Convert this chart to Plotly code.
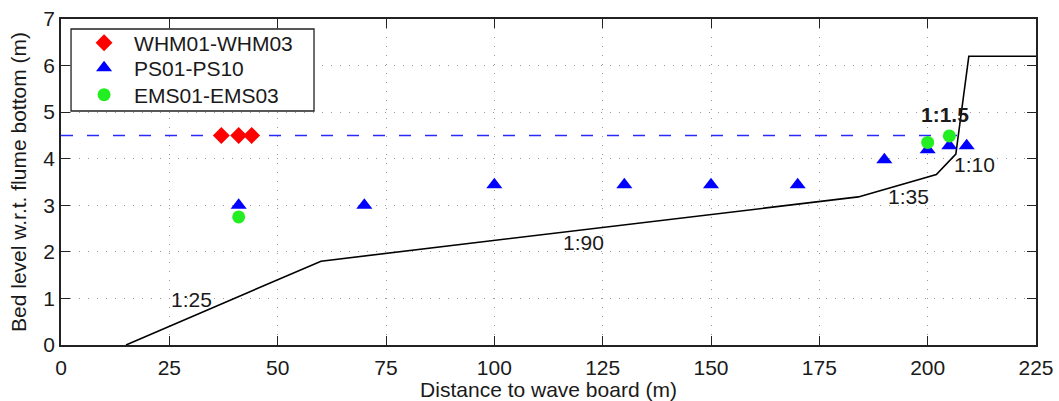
import plotly.graph_objects as go

# Flume bed profile (distance from wave board, bed level)
profile_x = [15, 60, 184, 202, 206.5, 209.5, 225]
profile_z = [0.0, 1.8, 3.18, 3.66, 4.1, 6.2, 6.2]

# Still water level
swl_x = [0, 207]
swl_z = [4.5, 4.5]

# Instrument locations
whm_x = [37, 41, 44]
whm_z = [4.5, 4.5, 4.5]

ps_x = [41, 70, 100, 130, 150, 170, 190, 200, 205, 209]
ps_z = [3.0, 3.0, 3.44, 3.44, 3.44, 3.44, 3.98, 4.19, 4.28, 4.28]

ems_x = [41, 200, 205]
ems_z = [2.75, 4.35, 4.49]

# Slope labels
slope_text = ["1:25", "1:90", "1:35", "1:10", "<b>1:1.5</b>"]
slope_x = [30, 120.5, 195.5, 210.7, 204.1]
slope_z = [0.97, 2.2, 3.18, 3.87, 4.96]

x_ticks = [0, 25, 50, 75, 100, 125, 150, 175, 200, 225]
y_ticks = [0, 1, 2, 3, 4, 5, 6, 7]

FONT = "Liberation Sans, Arial, Helvetica, sans-serif"
FS = 21
INK = "#1a1a1a"

fig = go.Figure()

fig.add_trace(go.Scatter(x=profile_x, y=profile_z, mode="lines",
                         line=dict(color="black", width=1.6),
                         showlegend=False, hoverinfo="skip"))
fig.add_trace(go.Scatter(x=swl_x, y=swl_z, mode="lines",
                         line=dict(color="#2a2aff", width=1.5, dash="12px,14px"),
                         showlegend=False, hoverinfo="skip"))
fig.add_trace(go.Scatter(x=whm_x, y=whm_z, mode="markers", name="WHM01-WHM03",
                         legend="legend",
                         marker=dict(symbol="diamond", size=13, color="#ff0000",
                                     line=dict(width=0))))
fig.add_trace(go.Scatter(x=ps_x, y=ps_z, mode="markers", name="PS01-PS10",
                         legend="legend2",
                         marker=dict(symbol="triangle-up", size=14, color="#0000ff",
                                     line=dict(width=0))))
fig.add_trace(go.Scatter(x=ems_x, y=ems_z, mode="markers", name="EMS01-EMS03",
                         legend="legend3",
                         marker=dict(symbol="circle", size=13, color="#22ee22",
                                     line=dict(width=0))))

for t, x, y in zip(slope_text, slope_x, slope_z):
    fig.add_annotation(x=x, y=y, text=t, showarrow=False,
                       font=dict(family=FONT, size=FS, color=INK),
                       xanchor="center", yanchor="middle")

axis_common = dict(
    showline=True, linecolor="#222", linewidth=1.5, mirror="ticks",
    ticks="inside", ticklen=9, tickwidth=1.3, tickcolor="#222",
    showgrid=True, gridcolor="#999", gridwidth=1, griddash="1px,8px",
    zeroline=False, automargin=False,
    tickfont=dict(family=FONT, size=FS, color=INK),
)

fig.update_xaxes(range=[0, 225], tickvals=x_ticks, ticklabelstandoff=3,
                 title=dict(text="Distance to wave board (m)",
                            font=dict(family=FONT, size=FS, color=INK),
                            standoff=8),
                 **axis_common)
fig.update_yaxes(range=[0, 7], tickvals=y_ticks,
                 title=dict(text="Bed level w.r.t. flume bottom (m)",
                            font=dict(family=FONT, size=FS, color=INK),
                            standoff=11),
                 **axis_common)

# Legend frame, with one single-entry legend per row inside it
fig.add_shape(type="rect", xref="paper", yref="paper",
              x0=0.0103, x1=0.2595, y0=0.7178, y1=0.9693,
              line=dict(color="#222", width=1.3), fillcolor="white",
              layer="above")

legend_rows = [0.9262, 0.8496, 0.7667]
legend_style = dict(xanchor="left", yanchor="middle", x=0.0134,
                    bgcolor="rgba(0,0,0,0)", borderwidth=0,
                    font=dict(family=FONT, size=FS, color=INK),
                    itemwidth=50)

fig.update_layout(
    width=1059, height=401,
    margin=dict(l=61, r=23, t=19, b=56, autoexpand=False),
    plot_bgcolor="white", paper_bgcolor="white",
    font=dict(family=FONT, size=FS, color=INK),
    legend=dict(y=legend_rows[0], **legend_style),
    legend2=dict(y=legend_rows[1], **legend_style),
    legend3=dict(y=legend_rows[2], **legend_style),
)

fig.write_html("out.html")
